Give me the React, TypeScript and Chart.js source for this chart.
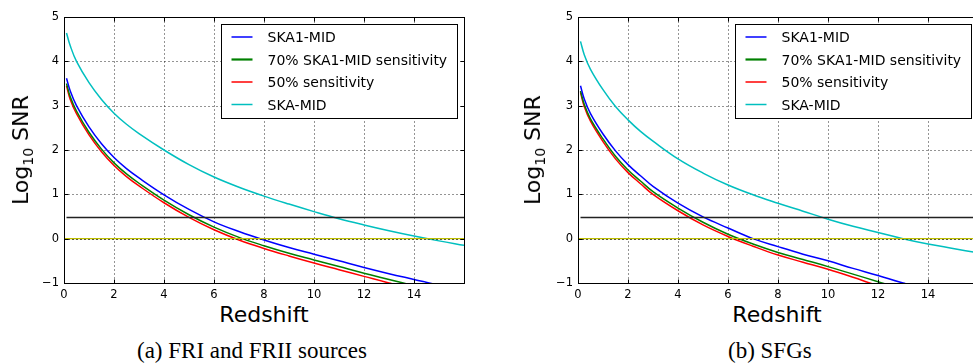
import React, { useEffect, useRef } from "react";
import { Chart, registerables } from "chart.js";

Chart.register(...registerables);

// ---- data ----
const REDSHIFT = [0.1, 0.25, 0.5, 1, 1.5, 2, 2.5, 3, 4, 5, 6, 7, 8, 9, 10, 11, 12, 13, 14, 15, 16];

// (a) FRI and FRII sources
const A_SKA1_MID = [3.62, 3.33, 3.0, 2.52, 2.14, 1.83, 1.58, 1.37, 0.99, 0.66, 0.38, 0.16, -0.03, -0.2, -0.35, -0.5, -0.65, -0.79, -0.92, -1.05, -1.17];
const A_SKA1_70 = [3.5, 3.2, 2.88, 2.4, 2.02, 1.71, 1.46, 1.25, 0.87, 0.54, 0.26, 0.03, -0.16, -0.33, -0.48, -0.63, -0.78, -0.92, -1.06, -1.19, -1.31];
const A_SKA1_50 = [3.45, 3.14, 2.82, 2.34, 1.96, 1.65, 1.4, 1.19, 0.81, 0.48, 0.2, -0.03, -0.22, -0.39, -0.55, -0.7, -0.85, -1.0, -1.13, -1.25, -1.37];
const A_SKA_MID = [4.64, 4.35, 4.0, 3.52, 3.14, 2.83, 2.58, 2.37, 2.0, 1.67, 1.39, 1.16, 0.96, 0.78, 0.61, 0.45, 0.31, 0.18, 0.06, -0.05, -0.15];

// (b) SFGs
const B_SKA1_MID = [3.45, 3.15, 2.82, 2.36, 1.98, 1.67, 1.42, 1.18, 0.8, 0.49, 0.24, 0.0, -0.18, -0.35, -0.5, -0.67, -0.83, -1.0, -1.14, -1.27, -1.39];
const B_SKA1_70 = [3.33, 3.03, 2.7, 2.25, 1.86, 1.55, 1.3, 1.06, 0.69, 0.37, 0.1, -0.12, -0.31, -0.47, -0.63, -0.8, -0.97, -1.14, -1.28, -1.4, -1.52];
const B_SKA1_50 = [3.3, 2.98, 2.65, 2.19, 1.8, 1.49, 1.24, 1.0, 0.63, 0.31, 0.05, -0.17, -0.37, -0.53, -0.69, -0.87, -1.06, -1.22, -1.36, -1.48, -1.6];
const B_SKA_MID = [4.45, 4.15, 3.82, 3.36, 2.98, 2.68, 2.42, 2.2, 1.8, 1.48, 1.21, 0.99, 0.8, 0.62, 0.44, 0.28, 0.14, 0.0, -0.12, -0.22, -0.32];

const SERIES_LABELS = ["SKA1-MID", "70% SKA1-MID sensitivity", "50% sensitivity", "SKA-MID"];
const SERIES_COLORS = ["#0000ff", "#008000", "#ff0000", "#00bfbf"];
const LEGEND_LINE_WIDTHS = [1.5, 2.2, 1.5, 1.5];

const THRESHOLD_LOG_SNR = 0.477; // log10(3)
const THRESHOLD_X = [0.1, 16];
const ZERO_LINE_X = [0, 16];

const X_MIN = 0;
const X_MAX = 16;
const X_STEP = 2;
const Y_MIN = -1;
const Y_MAX = 5;
const Y_STEP = 1;

const FONT = '"DejaVu Sans", sans-serif';

function range(a: number, b: number, s: number) {
  const out: number[] = [];
  for (let v = a; v <= b + 1e-9; v += s) out.push(v);
  return out;
}

const decorPlugin = {
  id: "decor",
  beforeDatasetsDraw(chart: any) {
    const { ctx, chartArea: a, scales } = chart;
    ctx.save();
    ctx.strokeStyle = "rgba(0,0,0,0.42)";
    ctx.lineWidth = 1;
    ctx.setLineDash([2, 2]);
    for (const v of range(X_MIN, X_MAX, X_STEP)) {
      const px = Math.round(scales.x.getPixelForValue(v)) + 0.5;
      ctx.beginPath();
      ctx.moveTo(px, a.top);
      ctx.lineTo(px, a.bottom);
      ctx.stroke();
    }
    for (const v of range(Y_MIN, Y_MAX, Y_STEP)) {
      const py = Math.round(scales.y.getPixelForValue(v)) + 0.5;
      ctx.beginPath();
      ctx.moveTo(a.left, py);
      ctx.lineTo(a.right, py);
      ctx.stroke();
    }
    ctx.restore();
  },
  afterDatasetsDraw(chart: any) {
    const { ctx, chartArea: a, scales } = chart;
    ctx.save();
    // dotted grid over the zero line
    ctx.strokeStyle = "rgba(0,0,0,0.45)";
    ctx.setLineDash([2, 2]);
    ctx.lineWidth = 1;
    const y0 = Math.round(scales.y.getPixelForValue(0)) + 0.5;
    ctx.beginPath();
    ctx.moveTo(a.left, y0);
    ctx.lineTo(a.right, y0);
    ctx.stroke();
    ctx.setLineDash([]);
    // frame
    ctx.strokeStyle = "#000";
    ctx.lineWidth = 1;
    const L = Math.round(a.left) + 0.5;
    const R = Math.round(a.right) + 0.5;
    const T = Math.round(a.top) + 0.5;
    const B = Math.round(a.bottom) + 0.5;
    ctx.strokeRect(L, T, R - L, B - T);
    // inward ticks
    const tl = 4;
    for (const v of range(X_MIN, X_MAX, X_STEP)) {
      const px = Math.round(scales.x.getPixelForValue(v)) + 0.5;
      ctx.beginPath();
      ctx.moveTo(px, B);
      ctx.lineTo(px, B - tl);
      ctx.moveTo(px, T);
      ctx.lineTo(px, T + tl);
      ctx.stroke();
    }
    for (const v of range(Y_MIN, Y_MAX, Y_STEP)) {
      const py = Math.round(scales.y.getPixelForValue(v)) + 0.5;
      ctx.beginPath();
      ctx.moveTo(L, py);
      ctx.lineTo(L + tl, py);
      ctx.moveTo(R, py);
      ctx.lineTo(R - tl, py);
      ctx.stroke();
    }
    // legend
    const bw = 236;
    const bh = 94;
    const bx = Math.round(a.right - 7 - bw) + 0.5;
    const by = Math.round(a.top + 7) + 0.5;
    ctx.fillStyle = "#fff";
    ctx.fillRect(bx, by, bw, bh);
    ctx.strokeStyle = "#000";
    ctx.lineWidth = 1;
    ctx.strokeRect(bx, by, bw, bh);
    ctx.font = `14px ${FONT}`;
    ctx.textBaseline = "alphabetic";
    ctx.textAlign = "left";
    SERIES_LABELS.forEach((label, i) => {
      const ly = by + 12.5 + i * 22.5;
      ctx.strokeStyle = SERIES_COLORS[i];
      ctx.lineWidth = LEGEND_LINE_WIDTHS[i];
      ctx.beginPath();
      ctx.moveTo(bx + 10, ly);
      ctx.lineTo(bx + 31, ly);
      ctx.stroke();
      ctx.fillStyle = "#000";
      ctx.fillText(label, bx + 46, by + 17.5 + i * 22.7);
    });
    ctx.restore();
  },
};

function pts(xs: number[], ys: number[]) {
  return xs.map((x, i) => ({ x, y: ys[i] }));
}

function makeConfig(series: number[][], yAxisWidth: number, padRight: number): any {
  const curveSets = series.map((ys, i) => ({
    label: SERIES_LABELS[i],
    data: pts(REDSHIFT, ys),
    borderColor: SERIES_COLORS[i],
    borderWidth: 1.5,
    pointRadius: 0,
    fill: false,
    tension: 0.4,
    order: 2,
  }));
  const thresholdSet = {
    label: "threshold",
    data: pts(THRESHOLD_X, [THRESHOLD_LOG_SNR, THRESHOLD_LOG_SNR]),
    borderColor: "#222",
    borderWidth: 1.3,
    pointRadius: 0,
    fill: false,
    order: 1,
  };
  const zeroSet = {
    label: "zero",
    data: pts(ZERO_LINE_X, [0, 0]),
    borderColor: "#bfbf00",
    borderWidth: 1.3,
    pointRadius: 0,
    fill: false,
    order: 1,
  };
  return {
    type: "line",
    data: { datasets: [...curveSets, thresholdSet, zeroSet] },
    plugins: [decorPlugin],
    options: {
      animation: false,
      responsive: false,
      devicePixelRatio: 1,
      layout: { padding: { left: 0, top: 17, right: padRight, bottom: 0 } },
      plugins: { legend: { display: false }, tooltip: { enabled: false } },
      scales: {
        x: {
          type: "linear",
          min: X_MIN,
          max: X_MAX,
          grid: { display: false, drawTicks: false },
          border: { display: false },
          ticks: {
            stepSize: X_STEP,
            padding: 5,
            color: "#000",
            font: { family: FONT, size: 11.5 },
            maxRotation: 0,
            autoSkip: false,
            callback: (v: number) => (v >= X_MAX ? "" : String(v)),
          },
          afterFit: (s: any) => {
            s.height = 17;
          },
        },
        y: {
          type: "linear",
          min: Y_MIN,
          max: Y_MAX,
          grid: { display: false, drawTicks: false },
          border: { display: false },
          ticks: {
            stepSize: Y_STEP,
            padding: 5,
            color: "#000",
            font: { family: FONT, size: 11.5 },
            callback: (v: number) => (v < 0 ? "\u2212" + Math.abs(v) : String(v)),
          },
          afterFit: (s: any) => {
            s.width = yAxisWidth;
          },
        },
      },
    },
  };
}

function Panel(props: { series: number[][]; left: number; width: number; yAxisWidth: number; padRight: number }) {
  const ref = useRef<HTMLCanvasElement | null>(null);
  useEffect(() => {
    if (!ref.current) return;
    const chart = new Chart(ref.current, makeConfig(props.series, props.yAxisWidth, props.padRight));
    return () => chart.destroy();
  }, []);
  return (
    <canvas
      ref={ref}
      width={props.width}
      height={300}
      style={{ position: "absolute", left: props.left, top: 0, width: props.width, height: 300 }}
    />
  );
}

function YTitle(props: { cx: number }) {
  return (
    <div
      style={{
        position: "absolute",
        left: props.cx,
        top: 150,
        transform: "translate(-50%, -50%) rotate(-90deg)",
        fontFamily: FONT,
        fontSize: 22,
        lineHeight: 1,
        whiteSpace: "nowrap",
        color: "#000",
      }}
    >
      Log<span style={{ fontSize: 14, position: "relative", top: 5 }}>10</span> SNR
    </div>
  );
}

function XTitle(props: { cx: number }) {
  return (
    <div
      style={{
        position: "absolute",
        left: props.cx,
        top: 303.7,
        transform: "translateX(-50%)",
        fontFamily: FONT,
        fontSize: 22,
        lineHeight: 1,
        whiteSpace: "nowrap",
        color: "#000",
      }}
    >
      Redshift
    </div>
  );
}

function Caption(props: { left: number; text: string }) {
  return (
    <div
      style={{
        position: "absolute",
        left: props.left,
        top: 339,
        fontFamily: '"Liberation Serif", "Times New Roman", serif',
        fontSize: 23,
        lineHeight: 1,
        whiteSpace: "nowrap",
        color: "#000",
      }}
    >
      {props.text}
    </div>
  );
}

export default function App() {
  return (
    <div
      style={{
        position: "absolute",
        left: 0,
        top: 0,
        width: 973,
        height: 364,
        overflow: "hidden",
        background: "#fff",
      }}
    >
      <Panel series={[A_SKA1_MID, A_SKA1_70, A_SKA1_50, A_SKA_MID]} left={0} width={480} yAxisWidth={64} padRight={16} />
      <Panel series={[B_SKA1_MID, B_SKA1_70, B_SKA1_50, B_SKA_MID]} left={490} width={500} yAxisWidth={88} padRight={12} />
      <YTitle cx={21} />
      <YTitle cx={533} />
      <XTitle cx={264} />
      <XTitle cx={777} />
      <Caption left={137} text="(a) FRI and FRII sources" />
      <Caption left={728} text="(b) SFGs" />
    </div>
  );
}
